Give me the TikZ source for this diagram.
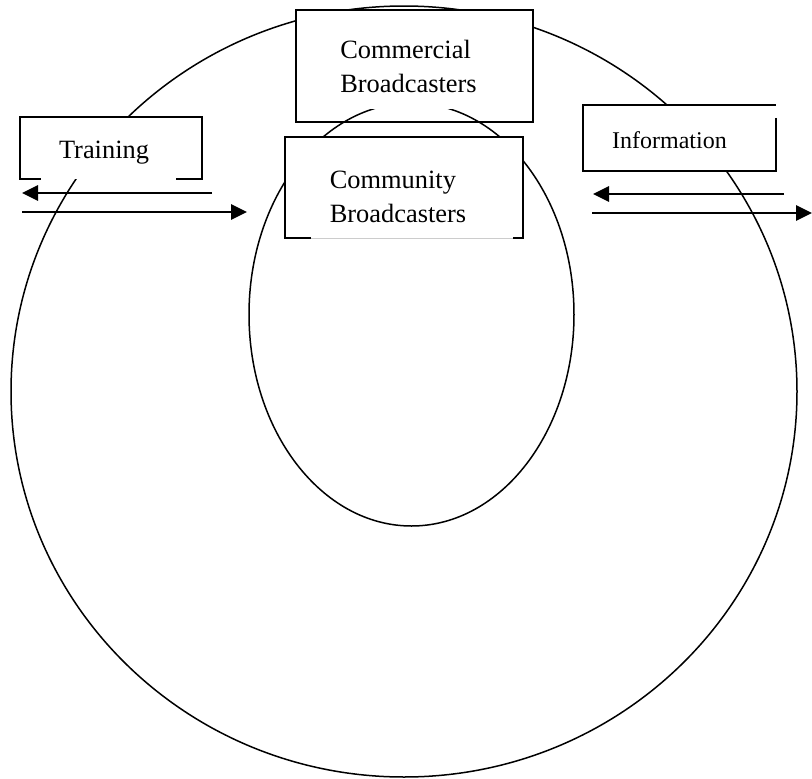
\documentclass[tikz,border=0pt]{standalone}
\usepackage{fontspec}
\setmainfont{Liberation Serif}
\usetikzlibrary{calc,arrows.meta}

\begin{document}
\begin{tikzpicture}[x=1pt,y=-1pt,
	box/.style={fill=white,inner sep=0pt,align=left,
		font=\fontsize{26.4}{34}\selectfont},
	arr/.style={line width=2.8pt,-{Triangle[length=16pt,width=15pt]}}]
	\useasboundingbox (0,0) rectangle (812,779);

	\draw[line width=1.5pt] (404,391.5) ellipse [x radius=393pt,y radius=385.5pt];

%	====================================================================
	\node[box,minimum width=182pt,minimum height=62pt,text height=26pt]
		(train) at (111,148) {Training\hspace*{14pt}};
	\draw[line width=1.5pt] ($(train.south west)+(21,0)$) -- (train.south west)
		-- (train.north west) -- (train.north east) -- (train.south east)
		-- ($(train.south east)+(-26,0)$);

	\node[box,minimum width=193pt,minimum height=66pt,text height=22pt,
		font=\fontsize{24}{29}\selectfont] (info) at (679.5,138) {Information\hspace*{20pt}};
	\draw[line width=1.5pt] ($(info.north east)+(0,13)$) -- (info.south east)
		-- (info.south west) -- (info.north west) -- (info.north east);
%	====================================================================

	\node[box,draw,line width=1.5pt,minimum width=237pt,minimum height=112pt]
		(commercial) at (414.5,66) {Commercial\\Broadcasters\hspace*{12pt}};

	\begin{scope}
		\clip (0,109) rectangle (812,779);
		\draw[line width=1.5pt] (411.5,314.5) ellipse [x radius=162.5pt,y radius=211.5pt];
	\end{scope}

	\node[box,minimum width=238pt,minimum height=101pt,text height=69pt,text depth=0pt]
		(community) at (404,187.5) {Community\\Broadcasters\hspace*{12pt}};
	\draw[line width=1.5pt] ($(community.south west)+(26,0)$) -- (community.south west)
		-- (community.north west) -- (community.north east) -- (community.south east)
		-- ($(community.south east)+(-10,0)$);
	\draw[gray!40,thin] ($(community.south west)+(26,0)$)
		-- ($(community.south east)+(-10,0)$);

%	====================================================================
	\coordinate (tl1) at (212,193);
	\coordinate (tl2) at (22,193);
	\coordinate (tr1) at (22,212);
	\coordinate (tr2) at (247,212);
	\coordinate (il1) at (784,194);
	\coordinate (il2) at (593,194);
	\coordinate (ir1) at (592,213);
	\coordinate (ir2) at (812,213);
	\draw[arr] (tl1) -- (tl2);
	\draw[arr] (tr1) -- (tr2);
	\draw[arr] (il1) -- (il2);
	\draw[arr] (ir1) -- (ir2);
\end{tikzpicture}
\end{document}
